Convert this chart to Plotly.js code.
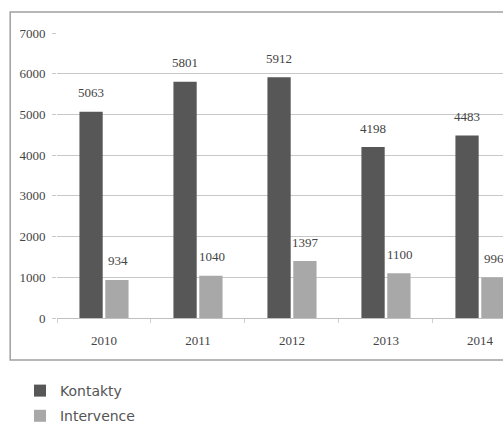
<!DOCTYPE html>
<html>
<head>
<meta charset="utf-8">
<script src="https://cdn.plot.ly/plotly-3.0.1.min.js"></script>
<style>html,body{margin:0;padding:0;background:#fff;}#chart{width:503px;height:424px;}</style>
</head>
<body>
<div id="chart"></div>
<script>
var years = ["2010", "2011", "2012", "2013", "2014"];
var kontakty = [5063, 5801, 5912, 4198, 4483];
var intervence = [934, 1040, 1397, 1100, 996];
var seriesNames = ["Kontakty", "Intervence"];
var yTicks = [0, 1000, 2000, 3000, 4000, 5000, 6000, 7000];

var labelFont = {family: "Liberation Serif, serif", size: 13, color: "#444"};

var traces = [
  {
    type: "bar", name: seriesNames[0], x: years, y: kontakty,
    marker: {color: "#575757"}, legendgroup: "a", hoverinfo: "none"
  },
  {
    type: "bar", name: seriesNames[1], x: years, y: intervence,
    marker: {color: "#a8a8a8"}, legendgroup: "b", hoverinfo: "none"
  }
];

// value labels placed above each bar (category index i, value v)
function labels(vals, shift) {
  return vals.map(function (v, i) {
    return {
      x: i, y: v, xref: "x", yref: "y", text: String(v),
      showarrow: false, xanchor: "center", yanchor: "middle",
      xshift: shift, yshift: 19, font: labelFont
    };
  });
}

var layout = {
  width: 503, height: 424,
  margin: {l: 57, r: 0, t: 33, b: 106, pad: 0, autoexpand: false},
  paper_bgcolor: "#fff", plot_bgcolor: "#fff",
  barmode: "group", bargap: 0.45, bargroupgap: 0.1,
  showlegend: true,
  legend: {
    orientation: "v", x: -0.083, xanchor: "left", y: -0.2, yanchor: "top",
    font: {family: "DejaVu Sans, Verdana, sans-serif", size: 14, color: "#555"},
    tracegroupgap: 4, bgcolor: "rgba(0,0,0,0)"
  },
  xaxis: {
    type: "category", range: [-0.5, 4.245],
    showgrid: false, zeroline: false, showline: false,
    ticks: "outside", tickson: "boundaries", ticklen: 4, tickcolor: "#d0d0d0",
    tickfont: {family: "Liberation Serif, serif", size: 13, color: "#444"},
    ticklabelstandoff: 13
  },
  yaxis: {
    range: [0, 7000], tickvals: yTicks, ticktext: yTicks.map(String),
    showgrid: true, gridcolor: "#c8c8c8", gridwidth: 1,
    zeroline: true, zerolinecolor: "#c0c0c0", zerolinewidth: 1,
    showline: false, ticks: "outside", ticklen: 4, tickcolor: "#c8c8c8",
    tickfont: {family: "Liberation Serif, serif", size: 13, color: "#444"},
    ticklabelstandoff: 4
  },
  annotations: labels(kontakty, -13).concat(labels(intervence, 14)),
  shapes: [
    {type: "rect", xref: "paper", yref: "paper",
     x0: -0.105, x1: 1.2, y0: -0.147, y1: 1.074,
     line: {color: "#a0a0a0", width: 1.5}, fillcolor: "rgba(0,0,0,0)", layer: "below"}
  ]
};

Plotly.newPlot("chart", traces, layout, {displayModeBar: false, staticPlot: true});
</script>
</body>
</html>
